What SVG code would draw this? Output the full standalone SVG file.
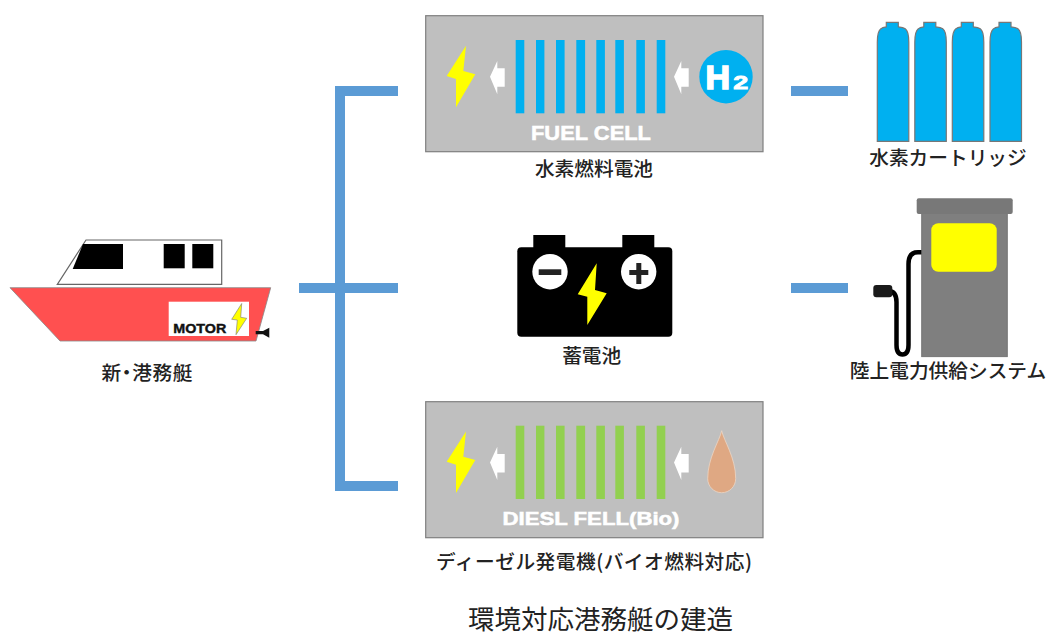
<svg xmlns="http://www.w3.org/2000/svg" xmlns:xlink="http://www.w3.org/1999/xlink" width="1049" height="635" viewBox="0 0 1049 635">
<style>
text{font-family:"Noto Sans CJK JP","Noto Sans",sans-serif}
.lb{font-size:19.7px;fill:#222;font-weight:500}
.mid{text-anchor:middle}
.en{font-family:"Liberation Sans",Arial,sans-serif;font-weight:700;fill:#fff;stroke:#fff;stroke-width:0.5}
.panel{fill:#bfbfbf;stroke:#7f7f7f;stroke-width:1.2}
.bolt{fill:#ff0}
.arr{fill:#fff}
.conn{fill:#5b9bd5}
.cyl{fill:#00b0f0;stroke:#777;stroke-width:1.2}
</style>
<defs>
<path id="bolt" class="bolt" d="M466 45.7L446.7 76L456 79L456 107.3L475.3 74.3L463.3 71Z"/>
<path id="arrow" class="arr" d="M490 76.7L497.3 61V68.3H504.7V86.7H497.3V94.3Z"/>
<path id="cyl" class="cyl" d="M0 119V20Q0 9 3.5 6.5Q5 5 9 4.5V0H21V4.5Q26 5 28 6.5Q31.5 9 31.5 20V119Z"/>
<g id="bars">
<rect x="515.7" y="40" width="8.6" height="73.3"/>
<rect x="536" y="40" width="8.4" height="73.3"/>
<rect x="556" y="40" width="8.6" height="73.3"/>
<rect x="576.3" y="40" width="8.8" height="73.3"/>
<rect x="596.3" y="40" width="8.6" height="73.3"/>
<rect x="615.3" y="40" width="8.6" height="73.3"/>
<rect x="636.3" y="40" width="8.6" height="73.3"/>
<rect x="656.7" y="40" width="8.6" height="73.3"/>
</g>
</defs>

<g id="connectors">
<rect class="conn" x="335" y="86" width="63" height="10"/>
<rect class="conn" x="335" y="86" width="10" height="405"/>
<rect class="conn" x="335" y="481" width="63" height="10"/>
<rect class="conn" x="299" y="283" width="99" height="10"/>
<rect class="conn" x="791" y="86" width="57" height="10"/>
<rect class="conn" x="791" y="283" width="57" height="10"/>
</g>

<g id="ship">
<path d="M86 240H221.7V284.3H57.3Z" fill="#fff" stroke="#666" stroke-width="1.2"/>
<path d="M83 244H123V269H72.7Z" fill="#000"/>
<rect x="163.7" y="244" width="21" height="24.3" fill="#000"/>
<rect x="192.3" y="244" width="21" height="24.3" fill="#000"/>
<path d="M10 287.7H270.7L256 341H60Z" fill="#ff5050" stroke="#888" stroke-width="0.8"/>
<rect x="168.7" y="301.7" width="80.3" height="34.3" fill="#fff"/>
<text class="en" x="173.3" y="333.3" font-size="12.5" textLength="53" lengthAdjust="spacingAndGlyphs" style="fill:#111;stroke:#111;stroke-width:0.4">MOTOR</text>
<path d="M241.7 303.5L231.7 319.3L237.3 320L236 334.7L246.7 318.3L240.7 317.3Z" fill="#ff0" stroke="#777" stroke-width="0.6"/>
<path d="M255.7 331H263L269.3 327.7V337.7L263 334.3H255.7Z" fill="#111"/>
<text class="lb" x="101.5" y="380" textLength="91" style="font-feature-settings:'palt'">新・港務艇</text>
</g>

<g id="fuel-cell">
<rect class="panel" x="425.7" y="15.7" width="337.3" height="136"/>
<use xlink:href="#bolt" href="#bolt"/>
<use xlink:href="#arrow" href="#arrow"/>
<use xlink:href="#arrow" href="#arrow" x="184"/>
<use xlink:href="#bars" href="#bars" fill="#00b0f0"/>
<circle cx="726" cy="76.7" r="26.7" fill="#00b0f0"/>
<text class="en" x="705.5" y="89" font-size="34" style="stroke-width:1.6">H</text>
<text class="en" x="733.3" y="89.3" font-size="18.5" textLength="15" lengthAdjust="spacingAndGlyphs" style="stroke-width:0.8">2</text>
<text class="en" x="531" y="140" font-size="19.8" textLength="120" lengthAdjust="spacingAndGlyphs">FUEL CELL</text>
<text class="lb mid" x="594" y="176">水素燃料電池</text>
</g>

<g id="battery">
<rect x="533.3" y="235" width="32" height="20" fill="#000"/>
<rect x="622.3" y="235" width="32" height="20" fill="#000"/>
<rect x="517.3" y="247.3" width="155" height="89.4" rx="4" fill="#000"/>
<circle cx="550" cy="271.7" r="17.7" fill="#fff"/>
<circle cx="638.7" cy="271.7" r="17.7" fill="#fff"/>
<rect x="538.7" y="269.3" width="22.6" height="5.7" fill="#222"/>
<rect x="629.3" y="270" width="19" height="5" fill="#222"/>
<rect x="636.3" y="263" width="5" height="21" fill="#222"/>
<path class="bolt" d="M596.7 263.3L577.7 294.3L587.3 296.7L587.3 325L606.7 293.3L595 290Z"/>
<text class="lb mid" x="591.7" y="363">蓄電池</text>
</g>

<g id="diesel">
<rect class="panel" x="425.7" y="401.7" width="337.3" height="136"/>
<g transform="translate(0 385.7)">
<use xlink:href="#bolt" href="#bolt"/>
<use xlink:href="#arrow" href="#arrow"/>
<use xlink:href="#arrow" href="#arrow" x="184"/>
<use xlink:href="#bars" href="#bars" fill="#92d050"/>
</g>
<path d="M721.7 430.7C724 441 735.7 458 735.7 478.5C735.7 486.5 729.5 492.7 721.7 492.7C713.9 492.7 707.7 486.5 707.7 478.5C707.7 458 719.4 441 721.7 430.7Z" fill="#dfa883" stroke="#ecd5c4" stroke-width="0.8"/>
<text class="en" x="502.5" y="525" font-size="17.8" textLength="177" lengthAdjust="spacingAndGlyphs">DIESL FELL(Bio)</text>
<text class="lb" x="436" y="569" textLength="316">ディーゼル発電機(バイオ燃料対応)</text>
</g>

<g id="hydrogen-cartridges">
<use xlink:href="#cyl" href="#cyl" x="877.3" y="22.3"/>
<use xlink:href="#cyl" href="#cyl" x="914.8" y="22.3"/>
<use xlink:href="#cyl" href="#cyl" x="952.3" y="22.3"/>
<use xlink:href="#cyl" href="#cyl" x="990" y="22.3"/>
<text class="lb mid" x="948" y="165">水素カートリッジ</text>
</g>

<g id="shore-power">
<path d="M922 252.3H918Q908.5 252.3 908.5 264V345Q908.5 354.5 902.5 354.5Q896.5 354.5 896.5 345V302Q896.5 291 888 291" fill="none" stroke="#000" stroke-width="4.5"/>
<rect x="873.3" y="285" width="19" height="12.3" rx="3" fill="#1a1a1a"/>
<rect x="921.7" y="212" width="85.6" height="144.7" fill="#7f7f7f" stroke="#6b6b6b" stroke-width="0.8"/>
<rect x="916.7" y="198.3" width="96" height="15.7" rx="2" fill="#787878"/>
<rect x="931.3" y="223.3" width="65.4" height="48.4" rx="7" fill="#ff0"/>
<text class="lb mid" x="948" y="378">陸上電力供給システム</text>
</g>

<text id="title" x="600.5" y="629" fill="#222" text-anchor="middle" style="font-size:26.5px">環境対応港務艇の建造</text>
</svg>
